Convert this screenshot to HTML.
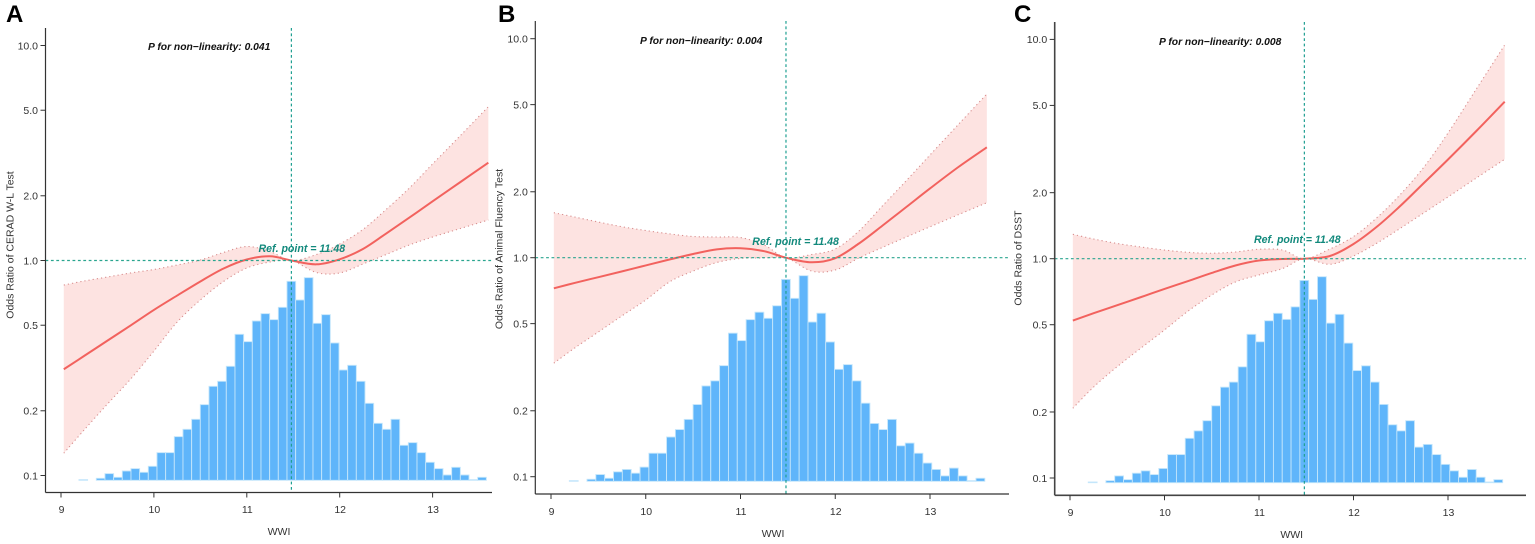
<!DOCTYPE html>
<html lang="en">
<head>
<meta charset="utf-8">
<title>Odds ratio by WWI</title>
<style>
html,body{margin:0;padding:0;background:#fff;width:1535px;height:544px;overflow:hidden}
svg{display:block}
text{font-family:"Liberation Sans",Arial,sans-serif}
</style>
</head>
<body>
<svg id="chart" xmlns="http://www.w3.org/2000/svg" width="1535" height="544" viewBox="0 0 1535 544"></svg>
<script>
const xTicks = [9, 10, 11, 12, 13];
const yTicks = [10, 5, 2, 1, 0.5, 0.2, 0.1];
const yTickLabels = ["10.0", "5.0", "2.0", "1.0", "0.5", "0.2", "0.1"];
const refPoint = 11.48;
const histFirstCenter = 9.24;
const histBinWidth = 0.0933;
const histCounts = [2,0,6,20,9,28,35,24,42,83,83,131,153,183,227,282,297,342,438,416,478,500,482,519,597,541,608,471,497,412,331,345,297,231,171,153,183,105,113,83,54,35,16,39,16,2,9];
const wwiKnots = [9.03,9.25,9.5,9.75,10,10.25,10.5,10.75,11,11.25,11.48,11.75,12,12.25,12.5,12.75,13,13.3,13.6];

const ceradOr = [0.312,0.360,0.424,0.499,0.589,0.687,0.799,0.918,1.011,1.046,1,0.960,1.013,1.131,1.335,1.583,1.885,2.318,2.850];
const ceradUpper = [0.769,0.803,0.838,0.875,0.908,0.953,1.005,1.090,1.162,1.101,1,1.066,1.193,1.394,1.727,2.174,2.811,3.814,5.192];
const ceradLower = [0.127,0.163,0.215,0.281,0.379,0.517,0.655,0.799,0.923,0.984,1,0.879,0.875,0.963,1.066,1.181,1.286,1.409,1.543];

const fluencyOr = [0.725,0.767,0.815,0.866,0.922,0.981,1.040,1.092,1.105,1.071,1,0.953,0.995,1.161,1.403,1.704,2.071,2.595,3.192];
const fluencyUpper = [1.605,1.534,1.455,1.385,1.331,1.285,1.250,1.243,1.236,1.143,1,1.034,1.096,1.324,1.728,2.248,2.945,4.062,5.590];
const fluencyLower = [0.330,0.387,0.458,0.543,0.641,0.775,0.869,0.951,0.992,0.997,1,0.869,0.879,0.997,1.115,1.243,1.384,1.572,1.783];

const dsstOr = [0.522,0.564,0.614,0.668,0.728,0.791,0.861,0.931,0.981,0.997,1,1.029,1.167,1.402,1.748,2.226,2.834,3.822,5.200];
const dsstUpper = [1.292,1.230,1.173,1.131,1.095,1.069,1.059,1.073,1.104,1.095,1,1.107,1.262,1.542,1.972,2.633,3.743,5.941,9.43];
const dsstLower = [0.208,0.260,0.322,0.391,0.473,0.577,0.683,0.783,0.843,0.902,1,0.943,1.029,1.179,1.380,1.624,1.912,2.333,2.840];

const panels = [
  {id:"a", letter:"A", letterX:6, title:"Odds Ratio of CERAD W-L Test", pValue:"P for non\u2212linearity: 0.041",
   or:ceradOr, upper:ceradUpper, lower:ceradLower,
   x9:61, xUnit:92.9, y1:260.5, decade:215, axisX:45.5, axisTop:28, axisBottom:492.5, axisRight:492,
   histBase:480.3, histScale:0.3333, titleX:10, titleY:245, pX:148, pY:50, refX:258.5, refY:252, wwiX:279, xLabY:513, wwiY:535, axisW:1.2, axisC:"#333"},
  {id:"b", letter:"B", letterX:498, title:"Odds Ratio of Animal Fluency Test", pValue:"P for non\u2212linearity: 0.004",
   or:fluencyOr, upper:fluencyUpper, lower:fluencyLower,
   x9:551, xUnit:94.75, y1:257.7, decade:219, axisX:535.3, axisTop:21, axisBottom:494, axisRight:1009,
   histBase:481.3, histScale:0.3382, titleX:499, titleY:249, pX:640, pY:44, refX:752.3, refY:245, wwiX:773, xLabY:515, wwiY:537, axisW:1.2, axisC:"#333"},
  {id:"c", letter:"C", letterX:1014, title:"Odds Ratio of DSST", pValue:"P for non\u2212linearity: 0.008",
   or:dsstOr, upper:dsstUpper, lower:dsstLower,
   x9:1070, xUnit:94.5, y1:258.7, decade:219.3, axisX:1054.7, axisTop:22, axisBottom:495.3, axisRight:1526,
   histBase:482.7, histScale:0.3388, titleX:1018, titleY:258, pX:1159, pY:45, refX:1254, refY:243, wwiX:1291.7, xLabY:516, wwiY:538, axisW:1.6, axisC:"#444"}
];

const NS = "http://www.w3.org/2000/svg";
const root = document.getElementById("chart");

function make(tag, attrs, parent) {
  const el = document.createElementNS(NS, tag);
  for (const k in attrs) el.setAttribute(k, attrs[k]);
  parent.appendChild(el);
  return el;
}

function smoothSegments(pts) {
  let d = "";
  for (let i = 0; i < pts.length - 1; i++) {
    const p0 = pts[Math.max(i - 1, 0)], p1 = pts[i], p2 = pts[i + 1], p3 = pts[Math.min(i + 2, pts.length - 1)];
    const c1x = p1[0] + (p2[0] - p0[0]) / 6, c1y = p1[1] + (p2[1] - p0[1]) / 6;
    const c2x = p2[0] - (p3[0] - p1[0]) / 6, c2y = p2[1] - (p3[1] - p1[1]) / 6;
    d += "C" + c1x.toFixed(2) + " " + c1y.toFixed(2) + " " + c2x.toFixed(2) + " " + c2y.toFixed(2) + " " + p2[0].toFixed(2) + " " + p2[1].toFixed(2);
  }
  return d;
}

function smoothPath(pts) {
  return "M" + pts[0][0].toFixed(2) + " " + pts[0][1].toFixed(2) + smoothSegments(pts);
}

panels.forEach(function (p) {
  const xScale = function (v) { return p.x9 + p.xUnit * (v - 9); };
  const yScale = function (v) { return p.y1 - p.decade * Math.log10(v); };

  const g = make("g", {}, root);
  
  

  const letter = make("text", {x:p.letterX, y:22, "font-size":24, "font-weight":"bold", fill:"#000"}, g);
  
  
  letter.textContent = p.letter;

  const hist = make("g", {}, g);
  
  
  histCounts.forEach(function (c, i) {
    if (c <= 0) return;
    const cx = histFirstCenter + histBinWidth * i;
    const left = xScale(cx - histBinWidth / 2);
    const right = xScale(cx + histBinWidth / 2);
    const h = c * p.histScale;
    const bar = make("rect", {
      x:left.toFixed(2), y:(p.histBase - h).toFixed(2),
      width:(right - left).toFixed(2), height:h.toFixed(2),
      fill:"#5fb5fa", stroke:"#c4e6fb", "stroke-width":0.9
    }, hist);
    
    
  });

  const upperPts = wwiKnots.map(function (x, i) { return [xScale(x), yScale(p.upper[i])]; });
  const lowerPts = wwiKnots.map(function (x, i) { return [xScale(x), yScale(p.lower[i])]; });
  const midPts = wwiKnots.map(function (x, i) { return [xScale(x), yScale(p.or[i])]; });
  const lowerRev = lowerPts.slice().reverse();

  const band = make("path", {
    d:smoothPath(upperPts) + "L" + lowerRev[0][0].toFixed(2) + " " + lowerRev[0][1].toFixed(2) + smoothSegments(lowerRev) + "Z",
    fill:"#fde3e1", stroke:"none"
  }, g);
  
  

  const upLine = make("path", {d:smoothPath(upperPts), fill:"none", stroke:"#d98f8f", "stroke-width":1.1, "stroke-dasharray":"1.2 3"}, g);
  
  

  const loLine = make("path", {d:smoothPath(lowerPts), fill:"none", stroke:"#d98f8f", "stroke-width":1.1, "stroke-dasharray":"1.2 3"}, g);
  
  

  const mid = make("path", {d:smoothPath(midPts), fill:"none", stroke:"#f2625e", "stroke-width":2}, g);
  
  

  const hRef = make("line", {x1:p.axisX, x2:p.axisRight, y1:yScale(1), y2:yScale(1), stroke:"#2aa58f", "stroke-width":1.2, "stroke-dasharray":"2.8 2.6"}, g);
  
  

  const vRef = make("line", {x1:xScale(refPoint), x2:xScale(refPoint), y1:p.axisTop, y2:p.axisBottom, stroke:"#1f9f92", "stroke-width":1.2, "stroke-dasharray":"2.8 2.6"}, g);
  
  

  const pText = make("text", {x:p.pX, y:p.pY, "font-size":10.3, "font-weight":"bold", "font-style":"italic", fill:"#111"}, g);
  
  
  pText.textContent = p.pValue;

  const refText = make("text", {x:p.refX, y:p.refY, "font-size":10.6, "font-weight":"bold", "font-style":"italic", fill:"#12897c"}, g);
  
  
  refText.textContent = "Ref. point = " + refPoint;

  const yAxis = make("line", {x1:p.axisX, x2:p.axisX, y1:p.axisTop, y2:p.axisBottom, stroke:p.axisC, "stroke-width":p.axisW}, g);
  
  

  const xAxis = make("line", {x1:p.axisX, x2:p.axisRight, y1:p.axisBottom, y2:p.axisBottom, stroke:p.axisC, "stroke-width":p.axisW}, g);
  
  

  yTicks.forEach(function (v, i) {
    const y = yScale(v);
    const t = make("line", {x1:p.axisX - 5, x2:p.axisX, y1:y, y2:y, stroke:"#333", "stroke-width":1}, g);
    
    
    const l = make("text", {x:p.axisX - 7.5, y:y + 3.8, "font-size":10.5, "text-anchor":"end", fill:"#333"}, g);
    
    
    l.textContent = yTickLabels[i];
  });

  xTicks.forEach(function (v) {
    const x = xScale(v);
    const t = make("line", {x1:x, x2:x, y1:p.axisBottom, y2:p.axisBottom + 5, stroke:"#333", "stroke-width":1}, g);
    
    
    const l = make("text", {x:x + 0.5, y:p.xLabY, "font-size":10.5, "text-anchor":"middle", fill:"#333"}, g);
    
    
    l.textContent = String(v);
  });

  const xTitle = make("text", {x:p.wwiX, y:p.wwiY, "font-size":10.5, "text-anchor":"middle", fill:"#333"}, g);
  
  
  xTitle.textContent = "WWI";

  const yTitle = make("text", {
    x:0, y:0, "font-size":10.5, "text-anchor":"middle", fill:"#333",
    transform:"translate(" + (p.titleX + 3.6) + " " + p.titleY + ") rotate(-90)"
  }, g);
  
  
  yTitle.textContent = p.title;
});
</script>
</body>
</html>
